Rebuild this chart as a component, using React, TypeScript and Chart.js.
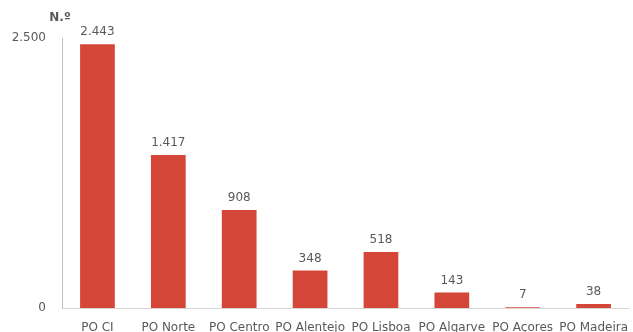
import React, { useEffect, useRef } from "react";
import { Chart, registerables } from "chart.js";
Chart.register(...registerables);

const categories = ["PO CI", "PO Norte", "PO Centro", "PO Alentejo", "PO Lisboa", "PO Algarve", "PO Açores", "PO Madeira"];
const values = [2443, 1417, 908, 348, 518, 143, 7, 38];
const yTicks = [0, 2500];
const unitLabel = "N.º";

const fmt = (v: number) => v.toString().replace(/\B(?=(\d{3})+(?!\d))/g, ".");
const FONT = "'DejaVu Sans', Verdana, sans-serif";

export default function App() {
  const ref = useRef<HTMLCanvasElement | null>(null);
  useEffect(() => {
    const labelsPlugin = {
      id: "labels",
      afterDatasetsDraw(chart: any) {
        const ctx = chart.ctx;
        ctx.save();
        ctx.font = `12px ${FONT}`;
        ctx.fillStyle = "#595959";
        ctx.textAlign = "center";
        ctx.textBaseline = "bottom";
        const meta = chart.getDatasetMeta(0);
        meta.data.forEach((bar: any, i: number) => {
          ctx.fillText(fmt(values[i]), bar.x, bar.y - 6);
        });
        ctx.font = `bold 12px ${FONT}`;
        ctx.textAlign = "center";
        ctx.textBaseline = "middle";
        ctx.fillText(unitLabel, chart.scales.y.right - 2, 18);
        ctx.restore();
      },
    };
    const chart = new Chart(ref.current!, {
      type: "bar",
      data: {
        labels: categories,
        datasets: [
          {
            data: values,
            backgroundColor: "#d44638",
            categoryPercentage: 1,
            barPercentage: 0.49,
          },
        ],
      },
      options: {
        animation: false,
        responsive: false,
        maintainAspectRatio: false,
        layout: { padding: { top: 38, left: 0, right: 0, bottom: 0 } },
        plugins: { legend: { display: false }, tooltip: { enabled: false } },
        scales: {
          x: {
            grid: { display: false },
            border: { display: true, color: "#d9d9d9", width: 1 },
            ticks: { font: { family: FONT, size: 12 }, color: "#595959", padding: 5, maxRotation: 0, autoSkip: false },
            afterFit(scale: any) { scale.height = 24; },
          },
          y: {
            min: 0,
            max: 2500,
            afterBuildTicks(scale: any) { scale.ticks = yTicks.map((v) => ({ value: v })); },
            grid: { display: false },
            border: { display: true, color: "#bfbfbf", width: 1 },
            ticks: {
              font: { family: FONT, size: 12 },
              color: "#595959",
              padding: 8,
              callback: (v: any) => fmt(Number(v)),
            },
            afterFit(scale: any) { scale.width = 62; },
          },
        },
      },
      plugins: [labelsPlugin],
    });
    return () => chart.destroy();
  }, []);
  return (
    <div style={{ position: "absolute", left: 0, top: 0, width: 633, height: 332, background: "#fff" }}>
      <canvas ref={ref} width={633} height={332} style={{ width: 633, height: 332 }} />
    </div>
  );
}
